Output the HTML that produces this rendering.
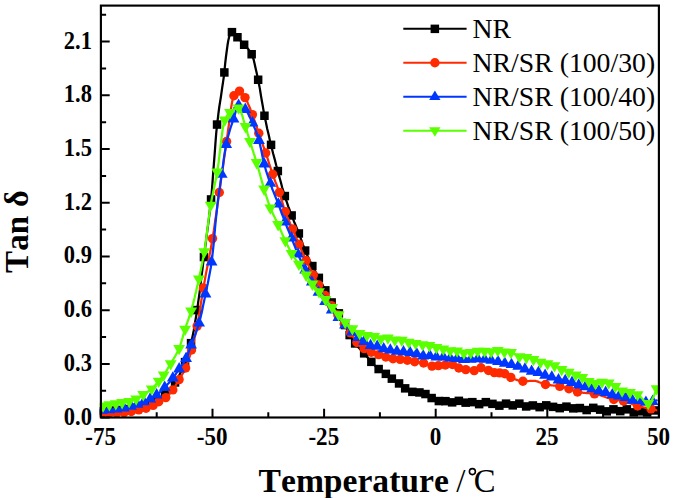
<!DOCTYPE html>
<html><head><meta charset="utf-8"><title>Tan delta vs Temperature</title>
<style>html,body{margin:0;padding:0;background:#fff;}body{width:675px;height:498px;overflow:hidden;font-family:"Liberation Serif",serif;}svg text{white-space:pre;font-kerning:none;font-variant-ligatures:none;}</style></head>
<body>
<svg width="675" height="498" viewBox="0 0 675 498" style="display:block">
<rect width="675" height="498" fill="#ffffff"/>
<defs><clipPath id="pc"><rect x="99.7" y="5.6" width="560.4" height="413.1"/></clipPath></defs>
<g clip-path="url(#pc)">
<g>
<polyline points="101.5,411.0 102.2,411.0 103.0,411.0 103.8,411.0 104.5,411.0 105.2,410.9 106.0,410.9 106.8,410.9 107.5,410.9 108.2,410.8 109.0,410.8 109.8,410.8 110.5,410.7 111.2,410.7 112.0,410.7 112.8,410.6 113.5,410.6 114.2,410.5 115.0,410.5 115.8,410.5 116.5,410.4 117.2,410.4 118.0,410.3 118.8,410.3 119.5,410.2 120.2,410.1 121.0,410.1 121.8,410.0 122.5,409.9 123.2,409.8 124.0,409.8 124.8,409.7 125.5,409.6 126.2,409.5 127.0,409.4 127.8,409.3 128.5,409.2 129.2,409.1 130.0,409.0 130.8,408.9 131.5,408.8 132.2,408.6 133.0,408.5 133.8,408.4 134.5,408.2 135.2,408.1 136.0,407.9 136.8,407.7 137.5,407.6 138.2,407.4 139.0,407.2 139.8,407.0 140.5,406.8 141.2,406.6 142.0,406.4 142.8,406.2 143.5,405.9 144.2,405.7 145.0,405.5 145.8,405.3 146.5,405.0 147.2,404.8 148.0,404.5 148.8,404.2 149.5,404.0 150.2,403.7 151.0,403.4 151.8,403.0 152.5,402.7 153.2,402.4 154.0,402.0 154.8,401.6 155.0,401.5 155.5,401.2 156.2,400.8 157.0,400.4 157.8,400.0 158.5,399.5 159.2,399.0 160.0,398.5 160.8,397.9 161.5,397.4 162.2,396.8 163.0,396.2 163.8,395.6 164.5,394.9 165.0,394.5 165.2,394.3 166.0,393.6 166.8,392.9 167.5,392.1 168.2,391.3 169.0,390.4 169.8,389.6 170.5,388.7 171.2,387.7 172.0,386.7 172.8,385.7 173.5,384.7 174.2,383.6 175.0,382.5 175.8,381.3 176.5,380.1 177.2,378.9 178.0,377.5 178.8,376.2 179.5,374.7 180.2,373.2 181.0,371.7 181.8,370.1 182.5,368.4 183.2,366.7 184.0,364.9 184.8,363.1 185.1,362.2 185.5,361.2 186.2,359.2 187.0,357.1 187.8,354.9 188.5,352.5 189.2,350.0 190.0,347.3 190.8,344.5 191.1,343.1 191.5,341.4 192.2,338.0 193.0,334.3 193.8,330.3 194.5,326.1 195.2,321.6 196.0,317.0 196.8,312.2 197.1,310.0 197.5,307.4 198.2,302.1 199.0,296.6 199.8,290.8 200.5,284.8 201.2,278.7 202.0,272.5 202.8,266.3 203.5,260.2 203.9,257.0 204.2,254.2 205.0,248.5 205.8,242.8 206.5,237.1 207.2,231.4 208.0,225.6 208.8,219.6 209.5,213.3 210.2,206.6 211.0,199.5 211.8,191.5 212.5,182.3 213.2,172.5 214.0,162.3 214.8,152.1 215.5,142.3 216.2,133.3 217.0,125.5 217.1,124.6 217.8,118.9 218.5,112.9 219.2,107.5 220.0,102.4 220.8,97.5 221.5,92.6 222.2,87.6 223.0,82.4 223.8,76.8 224.3,72.4 224.5,70.7 225.2,63.4 226.0,56.5 226.8,50.5 227.5,45.3 227.8,43.5 228.2,41.0 229.0,37.4 229.6,35.5 229.8,35.2 230.5,33.6 231.2,32.5 231.9,32.1 232.0,32.1 232.8,32.3 233.5,32.8 234.2,33.5 235.0,34.3 235.8,35.2 236.5,36.1 237.2,36.9 237.5,37.2 238.0,37.7 238.8,38.5 239.5,39.3 240.2,40.2 241.0,41.0 241.8,41.9 242.5,42.8 243.2,43.7 244.0,44.6 244.2,44.8 244.8,45.4 245.5,46.3 246.2,47.0 247.0,47.8 247.8,48.6 248.5,49.5 249.2,50.4 250.0,51.4 250.8,52.6 251.5,53.9 251.7,54.3 252.2,55.5 253.0,57.7 253.8,60.2 254.5,63.2 255.2,66.4 256.0,69.9 256.8,73.4 257.5,77.0 258.1,79.8 258.2,80.5 259.0,84.3 259.8,88.4 260.5,92.7 261.2,97.2 262.0,101.7 262.8,106.1 263.5,110.4 264.2,114.4 264.5,115.7 265.0,118.2 265.8,121.8 266.5,125.3 267.2,128.7 268.0,132.0 268.8,135.3 269.5,138.5 270.2,141.7 271.0,144.8 271.8,147.9 272.5,150.9 273.2,153.8 274.0,156.7 274.8,159.6 275.5,162.4 276.2,165.2 277.0,168.0 277.8,170.8 277.8,171.0 278.5,173.6 279.2,176.4 280.0,179.2 280.8,182.0 281.5,184.8 282.2,187.5 283.0,190.1 283.8,192.7 284.5,195.1 284.8,196.1 285.2,197.5 286.0,199.8 286.8,202.0 287.5,204.2 288.2,206.3 289.0,208.4 289.8,210.5 290.5,212.5 291.2,214.5 291.6,215.4 292.0,216.4 292.8,218.4 293.5,220.2 294.2,222.0 295.0,223.8 295.8,225.6 296.5,227.4 297.2,229.3 298.0,231.1 298.8,233.0 298.9,233.4 299.5,235.0 300.2,237.0 301.0,239.2 301.8,241.3 302.5,243.4 303.2,245.5 304.0,247.6 304.8,249.5 305.2,250.6 305.5,251.3 306.2,253.1 307.0,254.8 307.8,256.4 308.5,258.0 309.2,259.6 310.0,261.2 310.8,262.7 311.5,264.2 312.2,265.7 312.4,266.0 313.0,267.2 313.8,268.6 314.5,270.0 315.2,271.3 316.0,272.7 316.8,274.0 317.5,275.4 318.2,276.8 318.8,277.8 319.0,278.2 319.8,279.6 320.5,281.0 321.2,282.5 322.0,283.9 322.8,285.4 323.5,286.8 324.2,288.3 325.0,289.7 325.3,290.3 325.8,291.2 326.5,292.7 327.2,294.2 328.0,295.7 328.8,297.2 329.5,298.7 330.2,300.1 331.0,301.5 331.6,302.5 331.8,302.8 332.5,304.0 333.2,305.1 334.0,306.2 334.8,307.3 335.5,308.3 336.2,309.4 337.0,310.4 337.8,311.6 338.5,312.7 338.9,313.4 339.2,314.0 340.0,315.3 340.8,316.7 341.5,318.1 342.2,319.5 343.0,321.0 343.8,322.5 344.5,324.0 345.0,325.0 345.2,325.5 346.0,327.1 346.8,328.8 347.5,330.5 348.2,332.1 349.0,333.7 349.7,335.0 349.8,335.1 350.5,336.4 351.2,337.7 352.0,338.9 352.8,340.1 353.5,341.3 354.2,342.3 355.0,343.4 355.1,343.5 355.8,344.3 356.5,345.2 357.2,346.1 358.0,347.0 358.8,347.8 359.5,348.5 360.2,349.3 361.0,350.1 361.8,350.9 362.5,351.7 363.2,352.5 364.0,353.3 364.1,353.4 364.8,354.1 365.5,355.0 366.2,355.9 367.0,356.8 367.8,357.7 368.5,358.6 369.2,359.5 370.0,360.4 370.8,361.2 371.3,361.8 371.5,362.0 372.2,362.8 373.0,363.6 373.8,364.4 374.5,365.2 375.2,365.9 376.0,366.7 376.8,367.4 377.5,368.1 378.2,368.7 378.6,369.0 379.0,369.3 379.8,369.9 380.5,370.4 381.2,370.9 382.0,371.4 382.8,371.9 383.5,372.3 384.2,372.8 385.0,373.3 385.8,373.9 385.8,373.9 386.5,374.4 387.2,375.0 388.0,375.6 388.8,376.3 389.5,376.9 390.2,377.5 391.0,378.1 391.8,378.7 391.8,378.7 392.5,379.2 393.2,379.7 394.0,380.2 394.8,380.7 395.5,381.2 396.2,381.6 397.0,382.1 397.8,382.6 398.5,383.1 399.0,383.5 399.2,383.7 400.0,384.3 400.8,384.9 401.5,385.5 402.2,386.2 403.0,386.8 403.8,387.4 404.5,387.9 405.1,388.3 405.2,388.4 406.0,388.9 406.8,389.3 407.5,389.8 408.2,390.3 409.0,390.7 409.8,391.1 410.5,391.4 411.2,391.7 412.0,391.8 412.3,391.9 412.8,392.0 413.5,392.0 414.2,392.1 415.0,392.2 415.8,392.2 416.5,392.2 417.2,392.3 418.0,392.3 418.8,392.4 419.5,392.5 420.2,392.6 421.0,392.7 421.8,392.9 422.5,393.1 423.2,393.3 424.0,393.5 424.8,393.7 425.5,394.0 426.2,394.3 427.0,394.8 427.8,395.3 428.5,395.8 429.2,396.4 430.0,397.0 430.8,397.5 431.5,397.9 431.6,398.0 432.2,398.3 433.0,398.8 433.8,399.2 434.5,399.6 435.2,400.0 436.0,400.3 436.8,400.6 437.5,400.8 438.2,401.0 438.8,401.0 439.0,401.0 439.8,401.0 440.5,401.0 441.2,401.0 442.0,401.0 442.8,401.1 443.5,401.1 444.2,401.1 445.0,401.1 445.5,401.1 445.8,401.1 446.5,401.2 447.2,401.3 448.0,401.5 448.8,401.7 449.5,401.9 450.2,402.1 451.0,402.2 451.8,402.3 452.2,402.3 452.5,402.3 453.2,402.2 454.0,402.1 454.8,401.8 455.5,401.6 456.2,401.4 457.0,401.2 457.8,401.0 458.5,400.9 458.9,400.9 459.2,400.9 460.0,401.0 460.8,401.2 461.5,401.5 462.2,401.7 463.0,402.0 463.8,402.3 464.5,402.5 465.2,402.6 465.7,402.6 466.0,402.6 466.8,402.6 467.5,402.5 468.2,402.4 469.0,402.4 469.8,402.3 470.5,402.2 471.2,402.1 472.0,402.1 472.4,402.1 472.8,402.1 473.5,402.3 474.2,402.5 475.0,402.8 475.8,403.2 476.5,403.5 477.2,403.8 478.0,404.0 478.8,404.2 479.1,404.2 479.5,404.2 480.2,404.0 481.0,403.8 481.8,403.5 482.5,403.1 483.2,402.8 484.0,402.5 484.8,402.2 485.5,402.1 485.8,402.1 486.2,402.1 487.0,402.2 487.8,402.3 488.5,402.5 489.2,402.8 490.0,403.0 490.8,403.3 491.5,403.5 492.2,403.7 492.5,403.8 493.0,403.9 493.8,404.2 494.5,404.4 495.2,404.7 496.0,405.0 496.8,405.2 497.5,405.4 498.2,405.5 499.0,405.6 499.3,405.6 499.8,405.6 500.5,405.4 501.2,405.2 502.0,404.9 502.8,404.6 503.5,404.2 504.2,403.9 505.0,403.7 505.8,403.6 506.0,403.6 506.5,403.6 507.2,403.8 508.0,404.0 508.8,404.2 509.5,404.5 510.2,404.8 511.0,405.0 511.8,405.2 512.5,405.3 512.7,405.3 513.2,405.3 514.0,405.1 514.8,404.9 515.5,404.7 516.2,404.4 517.0,404.1 517.8,403.9 518.5,403.7 519.2,403.6 519.4,403.6 520.0,403.7 520.8,403.9 521.5,404.3 522.2,404.7 523.0,405.2 523.8,405.7 524.5,406.1 525.2,406.4 526.0,406.5 526.1,406.5 526.8,406.5 527.5,406.4 528.2,406.3 529.0,406.1 529.8,405.9 530.5,405.8 531.2,405.6 532.0,405.5 532.8,405.5 532.9,405.5 533.5,405.5 534.2,405.7 535.0,405.9 535.8,406.1 536.5,406.4 537.2,406.6 538.0,406.9 538.8,407.0 539.5,407.1 539.6,407.1 540.2,407.1 541.0,406.9 541.8,406.7 542.5,406.4 543.2,406.1 544.0,405.9 544.8,405.6 545.5,405.5 546.2,405.4 546.3,405.4 547.0,405.4 547.8,405.5 548.5,405.7 549.2,405.9 550.0,406.1 550.8,406.3 551.5,406.5 552.2,406.7 553.0,406.9 553.8,407.1 554.5,407.2 555.2,407.4 556.0,407.6 556.8,407.8 557.5,407.9 558.2,408.0 559.0,408.1 559.7,408.1 559.8,408.1 560.5,408.0 561.2,407.9 562.0,407.7 562.8,407.5 563.5,407.3 564.2,407.1 565.0,406.9 565.8,406.7 566.5,406.7 567.2,406.8 568.0,406.9 568.8,407.1 569.5,407.4 570.2,407.7 571.0,408.0 571.8,408.2 572.5,408.3 573.2,408.4 573.2,408.4 574.0,408.4 574.8,408.3 575.5,408.3 576.2,408.2 577.0,408.2 577.8,408.1 578.5,408.0 579.2,408.0 579.9,408.0 580.0,408.0 580.8,408.1 581.5,408.3 582.2,408.6 583.0,408.9 583.8,409.2 584.5,409.5 585.2,409.8 586.0,410.0 586.6,410.0 586.8,410.0 587.5,409.9 588.2,409.7 589.0,409.4 589.8,409.0 590.5,408.7 591.2,408.4 592.0,408.1 592.8,407.9 593.3,407.9 593.5,407.9 594.2,408.0 595.0,408.1 595.8,408.3 596.5,408.5 597.2,408.7 598.0,409.0 598.8,409.2 599.5,409.4 600.1,409.6 600.2,409.6 601.0,409.9 601.8,410.1 602.5,410.4 603.2,410.6 604.0,410.9 604.8,411.1 605.5,411.3 606.2,411.4 606.8,411.4 607.0,411.4 607.8,411.3 608.5,411.1 609.2,410.8 610.0,410.5 610.8,410.1 611.5,409.8 612.2,409.6 613.0,409.4 613.5,409.4 613.8,409.4 614.5,409.5 615.2,409.7 616.0,409.9 616.8,410.2 617.5,410.5 618.2,410.8 619.0,411.0 619.8,411.1 620.2,411.1 620.5,411.1 621.2,411.0 622.0,410.8 622.8,410.5 623.5,410.3 624.2,410.0 625.0,409.7 625.8,409.5 626.5,409.4 626.9,409.4 627.2,409.4 628.0,409.6 628.8,409.9 629.5,410.3 630.2,410.8 631.0,411.3 631.8,411.7 632.5,412.1 633.2,412.3 633.7,412.3 634.0,412.3 634.8,412.2 635.5,412.1 636.2,412.0 637.0,411.8 637.8,411.6 638.5,411.5 639.2,411.4 640.0,411.3 640.4,411.3 640.8,411.3 641.5,411.4 642.2,411.5 643.0,411.7 643.8,411.9 644.5,412.1 645.2,412.3 646.0,412.4 646.8,412.5 647.1,412.5 647.5,412.5 648.2,412.4 649.0,412.3 649.8,412.1 650.5,411.9 651.2,411.7 652.0,411.4 652.8,411.0 653.5,410.7 653.8,410.5" fill="none" stroke="#000000" stroke-width="2.25" stroke-linejoin="round"/>
<rect x="97.2" y="406.8" width="8.5" height="8.5" fill="#000000"/><rect x="104.0" y="406.6" width="8.5" height="8.5" fill="#000000"/><rect x="110.8" y="406.2" width="8.5" height="8.5" fill="#000000"/><rect x="118.2" y="405.7" width="8.5" height="8.5" fill="#000000"/><rect x="125.8" y="404.8" width="8.5" height="8.5" fill="#000000"/><rect x="133.2" y="403.3" width="8.5" height="8.5" fill="#000000"/><rect x="140.8" y="401.2" width="8.5" height="8.5" fill="#000000"/><rect x="150.8" y="397.2" width="8.5" height="8.5" fill="#000000"/><rect x="160.8" y="390.2" width="8.5" height="8.5" fill="#000000"/><rect x="170.8" y="378.2" width="8.5" height="8.5" fill="#000000"/><rect x="180.8" y="357.9" width="8.5" height="8.5" fill="#000000"/><rect x="186.8" y="338.9" width="8.5" height="8.5" fill="#000000"/><rect x="192.8" y="305.8" width="8.5" height="8.5" fill="#000000"/><rect x="199.7" y="252.8" width="8.5" height="8.5" fill="#000000"/><rect x="206.8" y="195.2" width="8.5" height="8.5" fill="#000000"/><rect x="212.8" y="120.3" width="8.5" height="8.5" fill="#000000"/><rect x="220.1" y="68.2" width="8.5" height="8.5" fill="#000000"/><rect x="227.7" y="27.9" width="8.5" height="8.5" fill="#000000"/><rect x="233.2" y="33.0" width="8.5" height="8.5" fill="#000000"/><rect x="239.9" y="40.5" width="8.5" height="8.5" fill="#000000"/><rect x="247.4" y="50.0" width="8.5" height="8.5" fill="#000000"/><rect x="253.9" y="75.5" width="8.5" height="8.5" fill="#000000"/><rect x="260.2" y="111.5" width="8.5" height="8.5" fill="#000000"/><rect x="266.8" y="140.6" width="8.5" height="8.5" fill="#000000"/><rect x="273.6" y="166.8" width="8.5" height="8.5" fill="#000000"/><rect x="280.6" y="191.8" width="8.5" height="8.5" fill="#000000"/><rect x="287.4" y="211.2" width="8.5" height="8.5" fill="#000000"/><rect x="294.6" y="229.2" width="8.5" height="8.5" fill="#000000"/><rect x="300.9" y="246.3" width="8.5" height="8.5" fill="#000000"/><rect x="308.1" y="261.8" width="8.5" height="8.5" fill="#000000"/><rect x="314.6" y="273.6" width="8.5" height="8.5" fill="#000000"/><rect x="321.1" y="286.1" width="8.5" height="8.5" fill="#000000"/><rect x="327.4" y="298.2" width="8.5" height="8.5" fill="#000000"/><rect x="334.6" y="309.1" width="8.5" height="8.5" fill="#000000"/><rect x="340.8" y="320.8" width="8.5" height="8.5" fill="#000000"/><rect x="345.4" y="330.8" width="8.5" height="8.5" fill="#000000"/><rect x="350.9" y="339.2" width="8.5" height="8.5" fill="#000000"/><rect x="359.9" y="349.1" width="8.5" height="8.5" fill="#000000"/><rect x="367.1" y="357.6" width="8.5" height="8.5" fill="#000000"/><rect x="374.4" y="364.8" width="8.5" height="8.5" fill="#000000"/><rect x="381.6" y="369.6" width="8.5" height="8.5" fill="#000000"/><rect x="387.6" y="374.4" width="8.5" height="8.5" fill="#000000"/><rect x="394.8" y="379.2" width="8.5" height="8.5" fill="#000000"/><rect x="400.9" y="384.1" width="8.5" height="8.5" fill="#000000"/><rect x="408.1" y="387.6" width="8.5" height="8.5" fill="#000000"/><rect x="415.2" y="388.2" width="8.5" height="8.5" fill="#000000"/><rect x="421.2" y="389.8" width="8.5" height="8.5" fill="#000000"/><rect x="427.4" y="393.8" width="8.5" height="8.5" fill="#000000"/><rect x="434.6" y="396.8" width="8.5" height="8.5" fill="#000000"/><rect x="441.2" y="396.9" width="8.5" height="8.5" fill="#000000"/><rect x="447.9" y="398.1" width="8.5" height="8.5" fill="#000000"/><rect x="454.6" y="396.6" width="8.5" height="8.5" fill="#000000"/><rect x="461.4" y="398.4" width="8.5" height="8.5" fill="#000000"/><rect x="468.1" y="397.9" width="8.5" height="8.5" fill="#000000"/><rect x="474.9" y="399.9" width="8.5" height="8.5" fill="#000000"/><rect x="481.6" y="397.9" width="8.5" height="8.5" fill="#000000"/><rect x="488.2" y="399.6" width="8.5" height="8.5" fill="#000000"/><rect x="495.1" y="401.4" width="8.5" height="8.5" fill="#000000"/><rect x="501.8" y="399.4" width="8.5" height="8.5" fill="#000000"/><rect x="508.5" y="401.1" width="8.5" height="8.5" fill="#000000"/><rect x="515.1" y="399.4" width="8.5" height="8.5" fill="#000000"/><rect x="521.9" y="402.2" width="8.5" height="8.5" fill="#000000"/><rect x="528.6" y="401.2" width="8.5" height="8.5" fill="#000000"/><rect x="535.4" y="402.9" width="8.5" height="8.5" fill="#000000"/><rect x="542.0" y="401.1" width="8.5" height="8.5" fill="#000000"/><rect x="548.8" y="402.6" width="8.5" height="8.5" fill="#000000"/><rect x="555.5" y="403.9" width="8.5" height="8.5" fill="#000000"/><rect x="562.2" y="402.4" width="8.5" height="8.5" fill="#000000"/><rect x="569.0" y="404.1" width="8.5" height="8.5" fill="#000000"/><rect x="575.6" y="403.8" width="8.5" height="8.5" fill="#000000"/><rect x="582.4" y="405.8" width="8.5" height="8.5" fill="#000000"/><rect x="589.0" y="403.6" width="8.5" height="8.5" fill="#000000"/><rect x="595.9" y="405.4" width="8.5" height="8.5" fill="#000000"/><rect x="602.5" y="407.1" width="8.5" height="8.5" fill="#000000"/><rect x="609.2" y="405.1" width="8.5" height="8.5" fill="#000000"/><rect x="616.0" y="406.9" width="8.5" height="8.5" fill="#000000"/><rect x="622.6" y="405.1" width="8.5" height="8.5" fill="#000000"/><rect x="629.5" y="408.1" width="8.5" height="8.5" fill="#000000"/><rect x="636.1" y="407.1" width="8.5" height="8.5" fill="#000000"/><rect x="642.9" y="408.2" width="8.5" height="8.5" fill="#000000"/><rect x="649.5" y="406.2" width="8.5" height="8.5" fill="#000000"/>
</g>
<g>
<polyline points="102.0,413.3 102.8,413.3 103.5,413.3 104.2,413.3 105.0,413.3 105.8,413.3 106.5,413.3 107.2,413.3 108.0,413.2 108.8,413.2 109.5,413.2 110.2,413.2 111.0,413.2 111.8,413.2 112.5,413.1 113.2,413.1 114.0,413.1 114.8,413.1 115.5,413.1 116.2,413.0 117.0,413.0 117.8,413.0 118.5,412.9 119.2,412.9 120.0,412.9 120.8,412.9 121.5,412.8 122.0,412.8 122.2,412.8 123.0,412.7 123.8,412.7 124.5,412.6 125.2,412.5 126.0,412.4 126.8,412.3 127.5,412.2 128.2,412.1 129.0,412.0 129.8,411.8 130.5,411.7 131.2,411.5 132.0,411.4 132.8,411.2 133.5,411.0 134.2,410.9 135.0,410.7 135.8,410.5 136.5,410.4 137.2,410.2 138.0,410.0 138.8,409.9 139.5,409.7 140.0,409.6 140.2,409.5 141.0,409.4 141.8,409.2 142.5,409.1 143.2,408.9 144.0,408.7 144.8,408.5 145.5,408.3 146.0,408.2 146.2,408.1 147.0,407.9 147.8,407.6 148.5,407.4 149.2,407.1 150.0,406.8 150.8,406.5 151.5,406.2 152.2,405.8 153.0,405.4 153.1,405.4 153.8,405.1 154.5,404.6 155.2,404.1 156.0,403.6 156.8,403.1 157.5,402.6 158.2,402.1 158.7,401.8 159.0,401.6 159.8,401.2 160.5,400.8 161.2,400.4 162.0,400.0 162.8,399.6 163.5,399.1 164.2,398.7 165.0,398.2 165.8,397.6 165.8,397.6 166.5,397.0 167.2,396.4 168.0,395.6 168.8,394.8 169.5,394.0 170.2,393.1 171.0,392.2 171.8,391.3 172.5,390.3 172.8,389.9 173.2,389.3 174.0,388.2 174.8,387.0 175.5,385.8 176.2,384.5 177.0,383.2 177.8,381.9 178.5,380.6 179.1,379.6 179.2,379.3 180.0,378.1 180.8,376.9 181.5,375.7 182.2,374.4 183.0,373.1 183.8,371.8 184.5,370.3 185.2,368.8 185.6,368.0 186.0,367.1 186.8,365.2 187.5,363.1 188.2,360.9 189.0,358.5 189.8,356.1 190.5,353.5 191.2,350.9 191.5,350.0 192.0,348.2 192.8,345.4 193.5,342.4 194.2,339.3 195.0,336.0 195.8,332.6 196.5,329.0 197.1,326.1 197.2,325.3 198.0,321.3 198.8,317.0 199.5,312.4 200.2,307.6 201.0,302.8 201.8,298.0 202.5,293.3 203.2,288.8 203.4,287.9 204.0,284.5 204.8,280.4 205.5,276.4 206.2,272.4 207.0,268.5 207.8,264.6 208.5,260.8 209.2,256.8 210.0,252.8 210.8,248.7 211.5,244.5 212.2,240.1 212.5,238.6 213.0,235.5 213.8,230.7 214.5,225.8 215.2,220.7 216.0,215.6 216.8,210.3 217.5,205.1 218.2,199.8 219.0,194.6 219.3,192.5 219.8,189.4 220.5,184.1 221.2,178.8 222.0,173.5 222.8,168.1 223.5,162.8 224.2,157.5 225.0,152.3 225.8,147.2 226.3,143.5 226.5,142.2 227.2,136.8 228.0,131.0 228.8,125.1 229.5,119.3 230.2,113.6 231.0,108.4 231.8,103.8 232.5,100.0 233.2,97.2 233.9,95.8 234.0,95.7 234.8,94.6 235.5,93.7 236.2,92.9 237.0,92.2 237.8,91.7 238.5,91.3 239.2,91.1 239.5,91.1 240.0,91.2 240.8,91.6 241.5,92.3 242.2,93.3 243.0,94.4 243.8,95.6 244.5,96.8 245.0,97.6 245.2,98.0 246.0,99.3 246.8,100.8 247.5,102.4 248.2,104.1 249.0,105.9 249.8,107.7 250.5,109.7 251.2,111.6 252.0,113.6 252.4,114.6 252.8,115.5 253.5,117.5 254.2,119.7 255.0,121.9 255.8,124.1 256.5,126.4 257.2,128.6 258.0,130.9 258.8,133.1 258.8,133.2 259.5,135.2 260.2,137.4 261.0,139.5 261.8,141.6 262.5,143.8 263.2,145.9 264.0,148.0 264.8,150.2 265.5,152.4 265.7,153.0 266.2,154.6 267.0,156.9 267.8,159.2 268.5,161.5 269.2,163.9 270.0,166.2 270.8,168.5 271.5,170.8 272.2,173.0 272.7,174.3 273.0,175.2 273.8,177.3 274.5,179.3 275.2,181.3 276.0,183.3 276.8,185.3 277.5,187.4 278.2,189.5 279.0,191.6 279.3,192.5 279.8,193.9 280.5,196.2 281.2,198.7 282.0,201.3 282.8,203.8 283.5,206.3 284.2,208.6 285.0,210.9 285.3,211.7 285.8,212.9 286.5,214.9 287.2,216.7 288.0,218.5 288.8,220.3 289.5,222.0 290.2,223.7 291.0,225.4 291.8,227.1 292.5,228.9 293.2,230.7 294.0,232.5 294.8,234.3 295.5,236.2 296.2,238.0 297.0,239.8 297.8,241.6 298.5,243.4 298.9,244.3 299.2,245.1 300.0,246.9 300.8,248.6 301.5,250.3 302.2,252.0 303.0,253.7 303.8,255.4 304.5,257.0 305.2,258.7 306.0,260.3 306.1,260.5 306.8,261.9 307.5,263.4 308.2,265.0 309.0,266.5 309.8,268.0 310.5,269.5 311.2,271.0 312.0,272.5 312.8,273.9 313.3,275.0 313.5,275.4 314.2,276.8 315.0,278.2 315.8,279.7 316.5,281.0 317.2,282.4 318.0,283.8 318.7,285.0 318.8,285.1 319.5,286.4 320.2,287.7 321.0,288.9 321.8,290.1 322.5,291.4 323.2,292.6 324.0,293.8 324.8,295.0 325.5,296.2 326.0,297.0 326.2,297.4 327.0,298.6 327.8,299.8 328.5,301.0 329.2,302.2 330.0,303.4 330.8,304.6 331.5,305.7 332.2,306.9 333.0,308.0 333.8,309.1 334.5,310.2 335.2,311.3 336.0,312.4 336.8,313.4 337.5,314.5 338.2,315.5 339.0,316.6 339.8,317.6 340.0,318.0 340.5,318.7 341.2,319.8 342.0,320.9 342.8,321.9 343.5,323.0 344.2,324.1 345.0,325.2 345.8,326.2 346.5,327.3 347.0,328.0 347.2,328.4 348.0,329.4 348.8,330.4 349.5,331.5 350.2,332.5 351.0,333.6 351.8,334.6 352.0,335.0 352.5,335.8 353.2,337.0 354.0,338.2 354.8,339.5 355.5,340.6 356.2,341.7 356.9,342.5 357.0,342.6 357.8,343.4 358.5,344.2 359.2,344.9 360.0,345.6 360.8,346.2 361.5,346.8 362.2,347.3 363.0,347.9 363.8,348.4 364.1,348.6 364.5,348.8 365.2,349.3 366.0,349.7 366.8,350.1 367.5,350.5 368.2,350.9 369.0,351.2 369.8,351.6 370.5,351.9 371.2,352.2 371.3,352.2 372.0,352.5 372.8,352.7 373.5,353.0 374.2,353.2 375.0,353.5 375.8,353.7 376.5,353.9 377.2,354.2 378.0,354.4 378.6,354.6 378.8,354.6 379.5,354.9 380.2,355.2 381.0,355.5 381.8,355.7 382.5,356.0 383.2,356.3 384.0,356.5 384.8,356.7 385.5,356.9 385.8,357.0 386.2,357.1 387.0,357.3 387.8,357.4 388.5,357.6 389.2,357.7 390.0,357.8 390.8,358.0 391.5,358.1 392.2,358.2 393.0,358.3 393.8,358.4 394.5,358.5 395.2,358.6 396.0,358.8 396.8,358.9 397.5,359.0 398.2,359.1 399.0,359.2 399.8,359.3 400.2,359.4 400.5,359.4 401.2,359.6 402.0,359.7 402.8,359.8 403.5,360.0 404.2,360.1 405.0,360.2 405.8,360.3 406.5,360.5 407.2,360.6 408.0,360.7 408.8,360.9 409.5,361.0 410.2,361.1 411.0,361.2 411.8,361.3 412.5,361.5 413.2,361.6 414.0,361.7 414.7,361.8 414.8,361.8 415.5,361.9 416.2,362.0 417.0,362.1 417.8,362.2 418.5,362.3 419.2,362.4 420.0,362.4 420.8,362.5 421.5,362.6 422.2,362.8 423.0,362.9 423.6,363.0 423.8,363.0 424.5,363.2 425.2,363.5 426.0,363.9 426.8,364.2 427.5,364.6 428.2,365.0 429.0,365.3 429.8,365.6 430.5,365.9 431.2,366.0 432.0,366.1 432.8,366.1 433.5,366.1 434.2,366.0 435.0,365.9 435.8,365.9 436.5,365.8 437.2,365.7 438.0,365.6 438.4,365.6 438.8,365.6 439.5,365.5 440.2,365.4 441.0,365.4 441.8,365.3 442.5,365.2 443.2,365.2 444.0,365.1 444.8,365.0 445.3,365.0 445.5,365.0 446.2,364.9 447.0,364.9 447.8,364.8 448.5,364.7 449.2,364.7 450.0,364.6 450.8,364.5 451.5,364.5 452.2,364.5 452.5,364.5 453.0,364.6 453.8,364.8 454.5,365.2 455.2,365.7 456.0,366.3 456.8,366.8 457.5,367.3 458.2,367.8 458.8,368.0 459.0,368.1 459.8,368.3 460.5,368.5 461.2,368.7 462.0,368.9 462.8,369.0 463.5,369.2 464.2,369.3 465.0,369.5 465.8,369.6 465.8,369.6 466.5,369.7 467.2,369.8 468.0,370.0 468.8,370.1 469.5,370.2 470.2,370.3 471.0,370.4 471.8,370.5 472.5,370.5 473.2,370.6 474.0,370.6 474.2,370.6 474.8,370.5 475.5,370.3 476.2,370.0 477.0,369.6 477.8,369.1 478.5,368.7 479.2,368.3 480.0,368.0 480.8,367.8 481.0,367.8 481.5,367.8 482.2,367.9 483.0,368.1 483.8,368.4 484.5,368.7 485.2,369.0 486.0,369.4 486.8,369.8 487.5,370.1 488.2,370.4 488.5,370.5 489.0,370.7 489.8,371.0 490.5,371.3 491.2,371.7 492.0,372.0 492.8,372.3 493.5,372.5 494.2,372.6 494.3,372.6 495.0,372.7 495.8,372.7 496.5,372.7 497.2,372.8 498.0,372.8 498.8,372.8 499.5,372.9 500.2,373.0 501.0,373.1 501.8,373.2 502.5,373.3 503.2,373.4 504.0,373.6 504.8,373.8 504.8,373.8 505.5,374.0 506.2,374.4 507.0,374.9 507.8,375.4 508.5,376.0 509.2,376.5 510.0,377.0 510.8,377.4 510.8,377.4 511.5,377.7 512.2,378.0 513.0,378.4 513.8,378.7 514.5,379.0 515.2,379.3 516.0,379.6 516.8,379.9 517.5,380.2 518.2,380.4 519.0,380.6 519.8,380.8 520.5,381.0 521.2,381.1 522.0,381.2 522.8,381.2 522.9,381.2 523.5,381.2 524.2,381.2 525.0,381.2 525.8,381.1 526.5,381.1 527.2,381.1 528.0,381.0 528.8,381.0 529.5,380.9 530.2,380.9 531.0,380.9 531.8,380.8 532.5,380.8 533.2,380.8 534.0,380.8 534.8,380.8 535.5,380.9 536.2,381.1 537.0,381.3 537.8,381.6 538.5,381.9 539.2,382.2 540.0,382.5 540.8,382.8 541.5,383.1 542.2,383.5 543.0,383.8 543.8,384.0 544.5,384.3 545.2,384.4 545.5,384.5 546.0,384.6 546.8,384.7 547.5,384.8 548.2,385.0 549.0,385.1 549.8,385.1 550.5,385.2 551.2,385.3 552.0,385.4 552.8,385.5 553.5,385.6 554.2,385.6 555.0,385.7 555.8,385.8 556.5,385.9 557.2,386.0 558.0,386.1 558.8,386.2 559.5,386.3 559.8,386.4 560.2,386.5 561.0,386.6 561.8,386.8 562.5,387.0 563.2,387.1 564.0,387.3 564.8,387.5 565.5,387.7 566.2,387.9 567.0,388.1 567.8,388.4 568.5,388.6 568.9,388.7 569.2,388.8 570.0,389.1 570.8,389.4 571.5,389.7 572.2,390.0 573.0,390.4 573.8,390.7 574.5,391.0 575.2,391.3 576.0,391.6 576.8,391.8 577.5,392.0 578.2,392.1 579.0,392.3 579.8,392.4 580.5,392.5 581.2,392.6 582.0,392.6 582.8,392.7 583.5,392.8 584.2,392.9 585.0,392.9 585.8,393.0 586.5,393.0 587.2,393.1 588.0,393.2 588.8,393.2 589.5,393.3 590.2,393.4 591.0,393.4 591.8,393.5 592.5,393.6 593.2,393.7 594.0,393.8 594.5,393.9 594.8,393.9 595.5,394.1 596.2,394.2 597.0,394.4 597.8,394.6 598.5,394.8 599.2,395.0 600.0,395.2 600.8,395.5 601.5,395.7 602.2,396.0 603.0,396.2 603.8,396.5 604.5,396.7 605.2,397.0 606.0,397.3 606.8,397.5 607.5,397.8 608.2,398.0 609.0,398.2 609.8,398.5 610.5,398.7 611.2,398.9 612.0,399.1 612.8,399.3 613.5,399.4 613.8,399.5 614.2,399.6 615.0,399.7 615.8,399.8 616.5,399.9 617.2,400.0 618.0,400.1 618.8,400.2 619.5,400.3 620.2,400.4 621.0,400.6 621.8,400.7 622.5,400.8 623.2,400.9 623.5,401.0 624.0,401.1 624.8,401.3 625.5,401.5 626.2,401.8 627.0,402.0 627.8,402.3 628.5,402.6 629.2,402.9 630.0,403.2 630.8,403.5 631.5,403.8 632.2,404.1 633.0,404.4 633.8,404.7 634.5,405.0 635.2,405.3 636.0,405.5 636.8,405.8 637.5,406.0 637.6,406.0 638.2,406.2 639.0,406.4 639.8,406.5 640.5,406.7 641.2,406.9 642.0,407.0 642.8,407.2 643.5,407.3 644.2,407.5 645.0,407.6 645.8,407.8 646.5,407.9 647.2,408.1 648.0,408.2 648.8,408.4 649.5,408.6 650.2,408.7 651.0,408.9 651.8,409.1 652.5,409.3 653.2,409.4 654.0,409.6 654.8,409.8 655.5,410.0 656.2,410.2 657.0,410.4 657.5,410.5" fill="none" stroke="#ff2a00" stroke-width="2.25" stroke-linejoin="round"/>
<circle cx="102.0" cy="413.3" r="4.7" fill="#ff2a00"/><circle cx="109.3" cy="413.2" r="4.7" fill="#ff2a00"/><circle cx="116.7" cy="413.0" r="4.7" fill="#ff2a00"/><circle cx="124.0" cy="412.7" r="4.7" fill="#ff2a00"/><circle cx="131.3" cy="411.5" r="4.7" fill="#ff2a00"/><circle cx="138.7" cy="409.9" r="4.7" fill="#ff2a00"/><circle cx="146.0" cy="408.2" r="4.7" fill="#ff2a00"/><circle cx="153.1" cy="405.4" r="4.7" fill="#ff2a00"/><circle cx="158.7" cy="401.8" r="4.7" fill="#ff2a00"/><circle cx="165.8" cy="397.6" r="4.7" fill="#ff2a00"/><circle cx="172.8" cy="389.9" r="4.7" fill="#ff2a00"/><circle cx="179.1" cy="379.6" r="4.7" fill="#ff2a00"/><circle cx="185.6" cy="368.0" r="4.7" fill="#ff2a00"/><circle cx="191.5" cy="350.0" r="4.7" fill="#ff2a00"/><circle cx="197.1" cy="326.1" r="4.7" fill="#ff2a00"/><circle cx="203.4" cy="287.9" r="4.7" fill="#ff2a00"/><circle cx="212.5" cy="238.6" r="4.7" fill="#ff2a00"/><circle cx="219.3" cy="192.5" r="4.7" fill="#ff2a00"/><circle cx="226.6" cy="141.5" r="4.7" fill="#ff2a00"/><circle cx="233.9" cy="95.8" r="4.7" fill="#ff2a00"/><circle cx="239.5" cy="91.1" r="4.7" fill="#ff2a00"/><circle cx="245.0" cy="97.6" r="4.7" fill="#ff2a00"/><circle cx="252.4" cy="114.6" r="4.7" fill="#ff2a00"/><circle cx="258.8" cy="133.2" r="4.7" fill="#ff2a00"/><circle cx="265.7" cy="153.0" r="4.7" fill="#ff2a00"/><circle cx="272.7" cy="174.3" r="4.7" fill="#ff2a00"/><circle cx="279.3" cy="192.5" r="4.7" fill="#ff2a00"/><circle cx="285.3" cy="211.7" r="4.7" fill="#ff2a00"/><circle cx="292.5" cy="228.9" r="4.7" fill="#ff2a00"/><circle cx="298.9" cy="244.3" r="4.7" fill="#ff2a00"/><circle cx="306.1" cy="260.5" r="4.7" fill="#ff2a00"/><circle cx="313.3" cy="275.0" r="4.7" fill="#ff2a00"/><circle cx="318.7" cy="285.0" r="4.7" fill="#ff2a00"/><circle cx="325.1" cy="295.5" r="4.7" fill="#ff2a00"/><circle cx="331.4" cy="305.6" r="4.7" fill="#ff2a00"/><circle cx="337.8" cy="314.9" r="4.7" fill="#ff2a00"/><circle cx="344.2" cy="324.0" r="4.7" fill="#ff2a00"/><circle cx="350.5" cy="332.9" r="4.7" fill="#ff2a00"/><circle cx="356.9" cy="342.5" r="4.7" fill="#ff2a00"/><circle cx="364.1" cy="348.6" r="4.7" fill="#ff2a00"/><circle cx="371.3" cy="352.2" r="4.7" fill="#ff2a00"/><circle cx="378.6" cy="354.6" r="4.7" fill="#ff2a00"/><circle cx="385.8" cy="357.0" r="4.7" fill="#ff2a00"/><circle cx="393.0" cy="358.7" r="4.7" fill="#ff2a00"/><circle cx="400.2" cy="359.4" r="4.7" fill="#ff2a00"/><circle cx="407.4" cy="360.2" r="4.7" fill="#ff2a00"/><circle cx="414.7" cy="361.8" r="4.7" fill="#ff2a00"/><circle cx="423.6" cy="363.0" r="4.7" fill="#ff2a00"/><circle cx="432.0" cy="366.1" r="4.7" fill="#ff2a00"/><circle cx="438.4" cy="365.6" r="4.7" fill="#ff2a00"/><circle cx="445.3" cy="365.0" r="4.7" fill="#ff2a00"/><circle cx="452.5" cy="364.5" r="4.7" fill="#ff2a00"/><circle cx="458.8" cy="368.0" r="4.7" fill="#ff2a00"/><circle cx="465.8" cy="369.6" r="4.7" fill="#ff2a00"/><circle cx="474.2" cy="370.6" r="4.7" fill="#ff2a00"/><circle cx="481.0" cy="367.8" r="4.7" fill="#ff2a00"/><circle cx="488.5" cy="370.5" r="4.7" fill="#ff2a00"/><circle cx="494.3" cy="372.6" r="4.7" fill="#ff2a00"/><circle cx="499.5" cy="372.9" r="4.7" fill="#ff2a00"/><circle cx="504.8" cy="373.8" r="4.7" fill="#ff2a00"/><circle cx="510.8" cy="377.4" r="4.7" fill="#ff2a00"/><circle cx="522.9" cy="381.2" r="4.7" fill="#ff2a00"/><circle cx="545.5" cy="384.5" r="4.7" fill="#ff2a00"/><circle cx="559.8" cy="386.4" r="4.7" fill="#ff2a00"/><circle cx="568.9" cy="388.7" r="4.7" fill="#ff2a00"/><circle cx="577.5" cy="392.0" r="4.7" fill="#ff2a00"/><circle cx="594.5" cy="393.9" r="4.7" fill="#ff2a00"/><circle cx="613.8" cy="399.5" r="4.7" fill="#ff2a00"/><circle cx="623.5" cy="401.0" r="4.7" fill="#ff2a00"/><circle cx="637.6" cy="406.0" r="4.7" fill="#ff2a00"/><circle cx="651.0" cy="408.9" r="4.7" fill="#ff2a00"/>
</g>
<g>
<polyline points="102.0,410.4 102.8,410.4 103.5,410.3 104.2,410.3 105.0,410.2 105.8,410.2 106.5,410.1 107.2,410.1 108.0,410.0 108.8,409.9 109.5,409.9 110.2,409.8 111.0,409.7 111.8,409.7 112.5,409.6 113.2,409.5 114.0,409.4 114.8,409.3 115.0,409.3 115.5,409.2 116.2,409.2 117.0,409.1 117.8,409.0 118.5,408.8 119.2,408.7 120.0,408.6 120.8,408.5 121.5,408.4 122.2,408.2 123.0,408.1 123.8,408.0 124.5,407.8 125.2,407.7 126.0,407.5 126.8,407.4 127.5,407.2 128.2,407.0 129.0,406.9 129.8,406.7 130.5,406.5 131.0,406.4 131.2,406.3 132.0,406.1 132.8,405.9 133.5,405.7 134.2,405.4 135.0,405.2 135.8,404.9 136.5,404.6 137.2,404.3 138.0,404.1 138.8,403.8 139.5,403.5 140.0,403.3 140.2,403.2 141.0,402.9 141.8,402.6 142.5,402.4 143.2,402.1 144.0,401.8 144.8,401.5 145.5,401.2 146.2,400.9 147.0,400.5 147.8,400.2 148.5,399.8 149.0,399.6 149.2,399.5 150.0,399.1 150.8,398.7 151.5,398.3 152.2,397.9 153.0,397.4 153.8,396.9 154.5,396.5 155.2,396.0 156.0,395.4 156.6,395.0 156.8,394.9 157.5,394.3 158.2,393.7 159.0,393.0 159.8,392.3 160.5,391.6 161.2,390.9 162.0,390.1 162.8,389.4 163.5,388.6 164.2,387.8 165.0,387.0 165.5,386.5 165.8,386.2 166.5,385.5 167.2,384.7 168.0,383.8 168.8,383.0 169.5,382.2 170.2,381.3 171.0,380.4 171.8,379.5 172.5,378.6 172.8,378.2 173.2,377.6 174.0,376.6 174.8,375.5 175.5,374.4 176.2,373.3 177.0,372.2 177.8,371.0 178.5,369.9 179.1,369.0 179.2,368.8 180.0,367.7 180.8,366.7 181.5,365.7 182.2,364.6 183.0,363.6 183.8,362.5 184.5,361.3 185.2,360.1 186.0,358.7 186.1,358.5 186.8,357.1 187.5,355.3 188.2,353.3 189.0,351.2 189.8,349.0 190.5,346.9 191.1,345.2 191.2,344.8 192.0,342.8 192.8,340.9 193.5,339.0 194.2,337.1 195.0,335.2 195.8,333.2 196.5,331.2 197.2,329.0 198.0,326.7 198.8,324.3 199.1,323.1 199.5,321.7 200.2,318.8 201.0,315.6 201.8,312.2 202.5,308.7 203.2,305.1 204.0,301.4 204.8,297.7 205.5,294.0 206.2,290.4 207.0,286.9 207.8,283.4 208.5,279.8 209.2,276.0 210.0,271.9 210.8,267.5 211.5,262.7 211.6,262.0 212.2,257.0 213.0,250.2 213.8,242.6 214.5,234.5 215.2,226.2 216.0,218.2 216.8,210.7 217.4,205.0 217.5,204.2 218.2,198.3 219.0,192.8 219.8,187.6 220.5,182.4 221.2,177.4 221.7,174.3 222.0,172.2 222.8,166.8 223.5,161.4 224.2,156.1 225.0,151.1 225.8,146.8 226.2,144.5 226.5,143.1 227.2,139.8 228.0,136.8 228.8,134.0 229.5,131.4 230.2,128.9 231.0,126.5 231.8,124.2 232.5,122.0 233.2,119.7 233.5,119.0 234.0,117.4 234.8,114.8 235.5,112.1 236.2,109.6 237.0,107.5 237.8,106.1 238.5,105.4 238.6,105.4 239.2,105.5 240.0,105.6 240.8,106.0 241.5,106.4 242.2,106.9 243.0,107.5 243.8,108.1 244.5,108.8 245.2,109.5 245.3,109.5 246.0,110.2 246.8,111.3 247.5,112.4 248.2,113.8 249.0,115.3 249.8,116.9 250.5,118.5 251.2,120.2 252.0,121.9 252.5,123.0 252.8,123.6 253.5,125.3 254.2,127.0 255.0,128.9 255.8,130.8 256.5,132.8 257.2,135.0 258.0,137.2 258.8,139.7 259.0,140.5 259.5,142.3 260.2,145.5 261.0,149.1 261.8,152.8 262.5,156.5 263.2,160.0 264.0,163.2 264.2,164.0 264.8,166.0 265.5,168.7 266.2,171.2 267.0,173.6 267.8,175.9 268.5,178.2 269.2,180.4 270.0,182.5 270.3,183.4 270.8,184.7 271.5,186.7 272.2,188.7 273.0,190.6 273.8,192.5 274.5,194.4 275.2,196.2 276.0,198.1 276.8,200.0 277.5,201.9 278.2,203.8 278.4,204.2 279.0,205.8 279.8,207.8 280.5,209.9 281.2,211.9 282.0,214.0 282.8,216.0 283.5,218.0 284.2,220.0 285.0,222.0 285.8,223.9 286.5,225.8 287.2,227.6 288.0,229.5 288.8,231.3 289.5,233.1 290.2,234.9 291.0,236.8 291.5,238.0 291.8,238.6 292.5,240.5 293.2,242.4 294.0,244.3 294.8,246.2 295.5,248.1 296.2,250.0 297.0,251.8 297.8,253.6 298.0,254.2 298.5,255.4 299.2,257.1 300.0,258.8 300.8,260.5 301.5,262.2 302.2,263.9 303.0,265.5 303.8,267.1 304.5,268.6 305.2,270.0 305.2,270.1 306.0,271.6 306.8,273.0 307.5,274.4 308.2,275.8 309.0,277.2 309.8,278.5 310.5,279.8 311.2,281.1 312.0,282.3 312.8,283.6 313.0,284.0 313.5,284.8 314.2,286.0 315.0,287.2 315.8,288.3 316.5,289.5 317.2,290.6 318.0,291.7 318.8,292.8 319.5,293.9 320.2,295.0 321.0,296.0 321.7,297.0 321.8,297.1 322.5,298.1 323.2,299.2 324.0,300.2 324.8,301.2 325.5,302.2 326.2,303.2 327.0,304.2 327.8,305.2 328.5,306.1 329.2,307.1 330.0,308.0 330.8,308.9 331.5,309.8 332.2,310.6 333.0,311.5 333.8,312.3 334.5,313.1 335.2,314.0 336.0,314.8 336.8,315.6 337.5,316.4 338.0,317.0 338.2,317.3 339.0,318.1 339.8,319.0 340.5,319.9 341.2,320.8 342.0,321.6 342.8,322.5 343.5,323.4 344.2,324.2 345.0,325.0 345.8,325.8 346.5,326.6 347.2,327.3 348.0,328.1 348.8,328.8 349.5,329.6 350.2,330.3 351.0,331.0 351.8,331.8 352.0,332.0 352.5,332.5 353.2,333.2 354.0,333.9 354.8,334.7 355.5,335.4 356.2,336.0 357.0,336.7 357.8,337.3 358.0,337.5 358.5,337.9 359.2,338.4 360.0,338.9 360.8,339.4 361.5,339.9 362.2,340.4 363.0,340.9 363.8,341.3 364.0,341.5 364.5,341.8 365.2,342.3 366.0,342.8 366.8,343.3 367.5,343.8 368.2,344.2 368.9,344.5 369.0,344.5 369.8,344.8 370.5,345.1 371.2,345.4 372.0,345.6 372.8,345.9 373.5,346.1 374.2,346.4 375.0,346.6 375.8,346.8 376.5,347.0 377.2,347.2 378.0,347.4 378.8,347.6 379.5,347.8 380.2,348.0 381.0,348.2 381.8,348.3 382.5,348.5 383.2,348.7 384.0,348.8 384.8,349.0 385.5,349.1 386.2,349.3 387.0,349.4 387.8,349.6 388.5,349.7 389.2,349.9 390.0,350.0 390.8,350.1 391.5,350.3 392.2,350.4 393.0,350.5 393.8,350.7 394.5,350.8 395.2,350.9 396.0,351.0 396.8,351.2 397.5,351.3 398.2,351.4 399.0,351.5 399.8,351.6 400.5,351.7 401.2,351.8 402.0,351.9 402.8,352.0 403.5,352.1 404.2,352.3 405.0,352.4 405.8,352.5 406.5,352.6 407.2,352.7 408.0,352.8 408.8,352.9 409.5,353.0 410.2,353.1 411.0,353.2 411.8,353.3 412.3,353.4 412.5,353.4 413.2,353.5 414.0,353.7 414.8,353.8 415.5,353.9 416.2,354.0 417.0,354.2 417.8,354.3 418.5,354.4 419.2,354.6 420.0,354.7 420.8,354.8 421.5,354.9 422.2,355.1 423.0,355.2 423.8,355.3 424.5,355.5 425.2,355.6 426.0,355.7 426.8,355.8 427.5,355.9 428.2,356.1 429.0,356.2 429.8,356.3 430.5,356.4 431.2,356.5 432.0,356.6 432.8,356.7 433.5,356.7 434.2,356.8 435.0,356.9 435.8,356.9 436.4,357.0 436.5,357.0 437.2,357.1 438.0,357.1 438.8,357.2 439.5,357.2 440.2,357.3 441.0,357.3 441.8,357.3 442.5,357.4 443.2,357.4 444.0,357.5 444.8,357.5 445.5,357.5 446.2,357.6 447.0,357.6 447.8,357.6 448.5,357.7 449.2,357.7 450.0,357.7 450.8,357.8 451.5,357.8 452.2,357.8 453.0,357.9 453.8,357.9 454.5,357.9 455.2,358.0 456.0,358.0 456.8,358.0 457.5,358.1 458.2,358.1 459.0,358.1 459.8,358.2 460.5,358.2 461.2,358.2 462.0,358.3 462.8,358.3 463.5,358.3 464.2,358.4 465.0,358.4 465.8,358.4 466.5,358.5 467.2,358.5 468.0,358.5 468.8,358.6 469.5,358.6 470.2,358.6 471.0,358.6 471.8,358.7 472.5,358.7 473.2,358.7 474.0,358.8 474.8,358.8 475.5,358.8 476.2,358.9 477.0,358.9 477.8,359.0 478.5,359.0 479.2,359.0 480.0,359.1 480.8,359.1 481.5,359.2 482.2,359.2 483.0,359.3 483.8,359.3 484.5,359.4 484.6,359.4 485.2,359.5 486.0,359.5 486.8,359.6 487.5,359.7 488.2,359.8 489.0,359.9 489.8,360.1 490.5,360.2 491.2,360.3 492.0,360.4 492.8,360.6 493.5,360.7 494.2,360.9 495.0,361.0 495.8,361.2 496.5,361.3 497.2,361.5 498.0,361.6 498.8,361.7 499.5,361.9 500.2,362.0 501.0,362.2 501.8,362.3 502.5,362.5 503.2,362.6 504.0,362.8 504.8,363.0 505.5,363.1 506.2,363.3 507.0,363.5 507.8,363.6 508.5,363.8 509.2,364.0 510.0,364.2 510.8,364.4 511.5,364.6 512.2,364.8 513.0,365.0 513.8,365.3 514.5,365.5 515.2,365.8 516.0,366.1 516.8,366.3 517.5,366.6 518.2,366.9 519.0,367.2 519.8,367.4 520.5,367.7 521.2,368.0 522.0,368.3 522.8,368.5 523.5,368.8 524.2,369.0 524.9,369.2 525.0,369.2 525.8,369.4 526.5,369.6 527.2,369.8 528.0,370.0 528.8,370.2 529.5,370.4 530.2,370.6 531.0,370.7 531.8,370.9 532.5,371.1 533.2,371.3 534.0,371.5 534.8,371.6 535.5,371.8 536.2,372.0 537.0,372.2 537.8,372.4 538.4,372.6 538.5,372.6 539.2,372.9 540.0,373.1 540.8,373.3 541.5,373.6 542.2,373.9 543.0,374.1 543.8,374.4 544.5,374.7 545.2,374.9 546.0,375.2 546.8,375.5 547.5,375.8 548.2,376.0 549.0,376.3 549.8,376.6 550.5,376.8 551.2,377.0 551.8,377.2 552.0,377.3 552.8,377.5 553.5,377.7 554.2,377.9 555.0,378.1 555.8,378.3 556.5,378.5 557.2,378.7 558.0,378.8 558.8,379.0 559.5,379.2 560.2,379.4 561.0,379.6 561.8,379.8 562.5,380.0 563.2,380.2 564.0,380.4 564.8,380.6 565.2,380.7 565.5,380.8 566.2,381.0 567.0,381.2 567.8,381.5 568.5,381.7 569.2,382.0 570.0,382.2 570.8,382.5 571.5,382.7 572.2,383.0 573.0,383.2 573.8,383.5 574.5,383.8 575.2,384.0 576.0,384.3 576.8,384.5 577.5,384.7 578.2,385.0 578.7,385.1 579.0,385.2 579.8,385.4 580.5,385.6 581.2,385.8 582.0,386.1 582.8,386.3 583.5,386.5 584.2,386.7 585.0,386.9 585.8,387.1 586.5,387.3 587.2,387.5 588.0,387.7 588.8,387.9 589.5,388.1 590.2,388.3 591.0,388.5 591.8,388.7 592.1,388.8 592.5,388.9 593.2,389.1 594.0,389.3 594.8,389.5 595.5,389.7 596.2,389.9 597.0,390.1 597.8,390.3 598.5,390.6 599.2,390.8 600.0,391.0 600.8,391.2 601.5,391.4 602.2,391.6 603.0,391.8 603.8,392.0 604.5,392.2 605.2,392.4 605.6,392.5 606.0,392.6 606.8,392.8 607.5,393.0 608.2,393.2 609.0,393.4 609.8,393.6 610.5,393.8 611.2,394.0 612.0,394.2 612.8,394.4 613.5,394.7 614.2,394.9 615.0,395.1 615.8,395.3 616.5,395.5 617.2,395.7 618.0,395.9 618.8,396.1 619.0,396.2 619.5,396.3 620.2,396.6 621.0,396.8 621.8,397.1 622.5,397.3 623.2,397.6 624.0,397.8 624.8,398.1 625.5,398.3 626.2,398.6 627.0,398.8 627.8,399.1 628.5,399.3 629.2,399.5 630.0,399.7 630.8,399.9 631.5,400.1 632.2,400.3 632.4,400.3 633.0,400.4 633.8,400.6 634.5,400.7 635.2,400.9 636.0,401.1 636.8,401.2 637.5,401.4 638.2,401.5 639.0,401.7 639.8,401.8 640.5,401.9 641.2,402.0 642.0,402.1 642.8,402.2 643.5,402.3 644.2,402.4 645.0,402.4 645.8,402.4 645.9,402.4 646.5,402.4 647.2,402.3 648.0,402.3 648.8,402.2 649.5,402.1 650.2,401.9 651.0,401.8 651.8,401.7 652.5,401.5 652.6,401.5 653.2,401.4 654.0,401.2 654.8,401.0 655.5,400.7 656.2,400.5 657.0,400.2 657.5,400.0" fill="none" stroke="#0037ff" stroke-width="2.25" stroke-linejoin="round"/>
<path d="M96.1 413.8L107.9 413.8L102.0 403.5Z" fill="#0037ff"/><path d="M103.3 413.3L115.2 413.3L109.2 403.0Z" fill="#0037ff"/><path d="M110.6 412.6L122.4 412.6L116.5 402.3Z" fill="#0037ff"/><path d="M117.8 411.4L129.7 411.4L123.8 401.1Z" fill="#0037ff"/><path d="M125.1 409.8L136.9 409.8L131.0 399.5Z" fill="#0037ff"/><path d="M131.5 407.7L143.3 407.7L137.4 397.4Z" fill="#0037ff"/><path d="M137.9 405.3L149.7 405.3L143.8 395.0Z" fill="#0037ff"/><path d="M144.3 402.4L156.1 402.4L150.2 392.1Z" fill="#0037ff"/><path d="M150.7 398.4L162.5 398.4L156.6 388.1Z" fill="#0037ff"/><path d="M158.8 390.8L170.6 390.8L164.7 380.5Z" fill="#0037ff"/><path d="M166.9 381.6L178.7 381.6L172.8 371.3Z" fill="#0037ff"/><path d="M173.2 372.4L185.0 372.4L179.1 362.1Z" fill="#0037ff"/><path d="M180.2 361.9L192.0 361.9L186.1 351.6Z" fill="#0037ff"/><path d="M185.2 348.6L197.0 348.6L191.1 338.3Z" fill="#0037ff"/><path d="M193.2 326.5L205.0 326.5L199.1 316.2Z" fill="#0037ff"/><path d="M199.6 297.4L211.4 297.4L205.5 287.1Z" fill="#0037ff"/><path d="M205.7 265.4L217.5 265.4L211.6 255.1Z" fill="#0037ff"/><path d="M215.8 177.7L227.6 177.7L221.7 167.4Z" fill="#0037ff"/><path d="M220.3 147.9L232.1 147.9L226.2 137.6Z" fill="#0037ff"/><path d="M227.6 122.4L239.4 122.4L233.5 112.1Z" fill="#0037ff"/><path d="M232.7 108.8L244.5 108.8L238.6 98.5Z" fill="#0037ff"/><path d="M239.4 112.9L251.2 112.9L245.3 102.6Z" fill="#0037ff"/><path d="M246.6 126.4L258.4 126.4L252.5 116.1Z" fill="#0037ff"/><path d="M253.1 143.9L264.9 143.9L259.0 133.6Z" fill="#0037ff"/><path d="M258.3 167.4L270.1 167.4L264.2 157.1Z" fill="#0037ff"/><path d="M264.4 186.8L276.2 186.8L270.3 176.5Z" fill="#0037ff"/><path d="M272.5 207.6L284.3 207.6L278.4 197.3Z" fill="#0037ff"/><path d="M279.1 225.4L290.9 225.4L285.0 215.1Z" fill="#0037ff"/><path d="M285.6 241.4L297.4 241.4L291.5 231.1Z" fill="#0037ff"/><path d="M292.1 257.6L303.9 257.6L298.0 247.3Z" fill="#0037ff"/><path d="M299.3 273.4L311.1 273.4L305.2 263.1Z" fill="#0037ff"/><path d="M305.9 285.5L317.7 285.5L311.8 275.2Z" fill="#0037ff"/><path d="M312.6 295.8L324.4 295.8L318.5 285.5Z" fill="#0037ff"/><path d="M319.2 305.1L331.0 305.1L325.1 294.8Z" fill="#0037ff"/><path d="M325.8 313.5L337.6 313.5L331.7 303.2Z" fill="#0037ff"/><path d="M332.5 320.9L344.3 320.9L338.4 310.6Z" fill="#0037ff"/><path d="M339.1 328.4L350.9 328.4L345.0 318.1Z" fill="#0037ff"/><path d="M346.1 335.4L357.9 335.4L352.0 325.1Z" fill="#0037ff"/><path d="M352.1 340.9L363.9 340.9L358.0 330.6Z" fill="#0037ff"/><path d="M358.1 344.9L369.9 344.9L364.0 334.6Z" fill="#0037ff"/><path d="M364.7 349.0L376.5 349.0L370.6 338.7Z" fill="#0037ff"/><path d="M371.3 349.8L383.1 349.8L377.2 339.5Z" fill="#0037ff"/><path d="M377.8 352.2L389.6 352.2L383.7 341.9Z" fill="#0037ff"/><path d="M384.4 353.5L396.2 353.5L390.3 343.2Z" fill="#0037ff"/><path d="M391.0 354.8L402.8 354.8L396.9 344.5Z" fill="#0037ff"/><path d="M397.6 355.3L409.4 355.3L403.5 345.0Z" fill="#0037ff"/><path d="M404.2 356.0L416.0 356.0L410.1 345.7Z" fill="#0037ff"/><path d="M410.8 357.3L422.6 357.3L416.7 347.0Z" fill="#0037ff"/><path d="M417.3 359.4L429.1 359.4L423.2 349.1Z" fill="#0037ff"/><path d="M423.9 359.0L435.7 359.0L429.8 348.7Z" fill="#0037ff"/><path d="M430.5 360.4L442.3 360.4L436.4 350.1Z" fill="#0037ff"/><path d="M437.4 360.4L449.2 360.4L443.3 350.1Z" fill="#0037ff"/><path d="M444.3 361.5L456.1 361.5L450.2 351.2Z" fill="#0037ff"/><path d="M451.2 362.1L463.0 362.1L457.1 351.8Z" fill="#0037ff"/><path d="M458.0 362.9L469.8 362.9L463.9 352.6Z" fill="#0037ff"/><path d="M464.9 362.7L476.7 362.7L470.8 352.4Z" fill="#0037ff"/><path d="M471.8 362.3L483.6 362.3L477.7 352.0Z" fill="#0037ff"/><path d="M478.7 362.8L490.5 362.8L484.6 352.5Z" fill="#0037ff"/><path d="M485.4 363.8L497.2 363.8L491.3 353.5Z" fill="#0037ff"/><path d="M492.1 365.0L503.9 365.0L498.0 354.7Z" fill="#0037ff"/><path d="M498.9 366.7L510.6 366.7L504.8 356.4Z" fill="#0037ff"/><path d="M505.6 368.0L517.4 368.0L511.5 357.7Z" fill="#0037ff"/><path d="M512.3 369.7L524.1 369.7L518.2 359.4Z" fill="#0037ff"/><path d="M519.0 372.6L530.8 372.6L524.9 362.3Z" fill="#0037ff"/><path d="M525.8 374.8L537.5 374.8L531.6 364.5Z" fill="#0037ff"/><path d="M532.5 376.0L544.3 376.0L538.4 365.7Z" fill="#0037ff"/><path d="M539.2 378.8L551.0 378.8L545.1 368.5Z" fill="#0037ff"/><path d="M545.9 380.6L557.7 380.6L551.8 370.3Z" fill="#0037ff"/><path d="M552.6 383.4L564.4 383.4L558.5 373.1Z" fill="#0037ff"/><path d="M559.3 384.1L571.1 384.1L565.2 373.8Z" fill="#0037ff"/><path d="M566.1 385.9L577.9 385.9L572.0 375.6Z" fill="#0037ff"/><path d="M572.8 388.5L584.6 388.5L578.7 378.2Z" fill="#0037ff"/><path d="M579.5 390.3L591.3 390.3L585.4 380.0Z" fill="#0037ff"/><path d="M586.2 392.2L598.0 392.2L592.1 381.9Z" fill="#0037ff"/><path d="M593.0 394.5L604.8 394.5L598.9 384.2Z" fill="#0037ff"/><path d="M599.7 395.9L611.5 395.9L605.6 385.6Z" fill="#0037ff"/><path d="M606.4 398.3L618.2 398.3L612.3 388.0Z" fill="#0037ff"/><path d="M613.1 399.6L624.9 399.6L619.0 389.3Z" fill="#0037ff"/><path d="M619.8 401.1L631.6 401.1L625.7 390.8Z" fill="#0037ff"/><path d="M626.5 403.7L638.3 403.7L632.4 393.4Z" fill="#0037ff"/><path d="M633.2 404.1L645.0 404.1L639.1 393.8Z" fill="#0037ff"/><path d="M640.0 405.8L651.8 405.8L645.9 395.5Z" fill="#0037ff"/><path d="M646.7 404.9L658.5 404.9L652.6 394.6Z" fill="#0037ff"/>
</g>
<g>
<polyline points="103.1,405.9 103.8,405.8 104.6,405.6 105.3,405.5 106.1,405.3 106.8,405.2 107.6,405.0 108.3,404.9 109.1,404.8 109.8,404.6 110.0,404.6 110.6,404.5 111.3,404.4 112.1,404.2 112.8,404.1 113.6,404.0 114.3,403.9 115.1,403.8 115.8,403.6 116.0,403.6 116.6,403.5 117.3,403.4 118.1,403.2 118.8,403.1 119.6,403.0 120.3,402.8 121.1,402.7 121.8,402.5 122.1,402.5 122.6,402.4 123.3,402.3 124.1,402.2 124.8,402.1 125.6,402.0 126.3,401.8 127.1,401.7 127.8,401.6 128.6,401.4 129.2,401.3 129.3,401.3 130.1,401.1 130.8,400.9 131.6,400.6 132.3,400.4 133.1,400.1 133.8,399.8 134.6,399.5 135.3,399.2 136.1,398.8 136.2,398.8 136.8,398.5 137.6,398.1 138.3,397.7 139.1,397.2 139.8,396.8 140.6,396.3 141.3,395.8 142.1,395.3 142.8,394.8 143.3,394.5 143.6,394.3 144.3,393.8 145.1,393.4 145.8,392.9 146.6,392.5 147.3,392.0 148.1,391.5 148.8,391.0 149.6,390.5 150.3,390.0 151.1,389.4 151.7,388.9 151.8,388.8 152.6,388.1 153.3,387.4 154.1,386.6 154.8,385.7 155.6,384.9 156.3,384.0 157.1,383.1 157.8,382.2 158.6,381.3 158.7,381.2 159.3,380.4 160.1,379.5 160.8,378.6 161.6,377.7 162.3,376.7 163.1,375.7 163.7,374.9 163.8,374.7 164.6,373.6 165.3,372.5 166.1,371.3 166.8,370.1 167.6,368.8 168.3,367.6 169.1,366.3 169.8,365.0 170.6,363.8 170.7,363.6 171.3,362.5 172.1,361.3 172.8,360.1 173.6,358.8 174.3,357.6 175.1,356.3 175.8,355.0 176.6,353.6 177.3,352.2 178.1,350.6 178.8,349.0 179.1,348.4 179.6,347.2 180.3,345.0 181.1,342.7 181.8,340.2 182.6,337.6 183.3,335.0 184.1,332.4 184.8,329.9 185.1,329.1 185.6,327.6 186.3,325.3 187.1,323.2 187.8,321.0 188.6,318.9 189.3,316.6 190.1,314.3 190.8,311.9 191.1,311.0 191.6,309.2 192.3,306.5 193.1,303.7 193.8,300.7 194.6,297.7 195.3,294.6 196.1,291.4 196.8,288.1 197.6,284.8 198.3,281.4 198.9,278.9 199.1,278.0 199.8,274.5 200.6,271.0 201.3,267.4 202.1,263.7 202.8,259.8 203.6,255.7 204.3,251.7 204.3,251.4 205.1,246.6 205.8,241.3 206.6,235.6 207.3,229.6 208.1,223.7 208.8,217.9 209.6,212.4 210.3,207.3 210.7,205.1 211.1,202.8 211.8,198.7 212.6,194.9 213.3,191.2 214.1,187.7 214.8,184.2 215.6,180.5 216.3,176.7 217.1,172.6 217.2,172.0 217.8,167.9 218.6,162.4 219.3,156.4 220.1,150.1 220.8,143.7 221.6,137.6 222.3,132.0 223.1,127.0 223.8,123.1 224.6,120.3 224.8,119.8 225.3,118.6 226.1,117.2 226.8,116.0 227.6,115.0 228.3,114.1 229.1,113.3 229.8,112.6 230.0,112.5 230.6,112.0 231.3,111.4 232.1,110.8 232.8,110.2 233.6,109.7 234.3,109.2 235.1,108.8 235.8,108.4 236.6,108.1 237.3,107.9 238.1,107.8 238.5,107.8 238.8,107.9 239.6,108.6 240.3,110.0 241.1,111.8 241.8,114.1 242.6,116.6 243.3,119.2 244.1,121.9 244.8,124.5 245.5,126.5 245.6,126.8 246.3,129.1 247.1,131.6 247.8,134.1 248.6,136.6 249.3,139.2 250.0,141.3 250.1,141.6 250.8,144.0 251.6,146.4 252.3,148.8 253.1,151.2 253.8,153.6 254.6,155.9 255.3,158.4 256.1,160.8 256.6,162.5 256.9,163.3 257.6,165.9 258.4,168.6 259.1,171.3 259.9,174.0 260.6,176.8 261.4,179.5 262.1,182.2 262.9,184.8 263.6,187.3 264.1,189.0 264.4,189.8 265.1,192.3 265.9,194.7 266.6,197.1 267.4,199.4 268.1,201.7 268.9,203.9 269.6,206.0 270.3,207.8 270.4,207.9 271.1,209.8 271.9,211.5 272.6,213.1 273.4,214.7 274.1,216.3 274.9,217.8 275.6,219.3 276.4,220.8 277.1,222.4 277.9,224.0 278.1,224.5 278.6,225.6 279.4,227.3 280.1,229.0 280.9,230.7 281.6,232.4 282.4,234.2 283.1,235.9 283.9,237.5 284.6,239.2 285.3,240.7 285.4,240.8 286.1,242.4 286.9,244.0 287.6,245.6 288.4,247.1 289.1,248.6 289.9,250.1 290.6,251.5 291.4,252.9 291.6,253.3 292.1,254.1 292.9,255.4 293.6,256.5 294.4,257.6 295.1,258.7 295.9,259.8 296.6,260.9 297.4,261.9 298.1,263.0 298.9,264.1 298.9,264.2 299.6,265.3 300.4,266.4 301.1,267.5 301.9,268.6 302.6,269.8 303.4,270.9 304.1,272.0 304.9,273.2 305.6,274.3 306.1,275.0 306.4,275.4 307.1,276.5 307.9,277.6 308.6,278.7 309.4,279.8 310.1,280.9 310.9,281.9 311.6,282.9 312.4,283.9 312.4,284.0 313.1,284.9 313.9,285.8 314.6,286.7 315.4,287.6 316.1,288.4 316.9,289.3 317.6,290.1 318.4,291.0 319.1,291.8 319.9,292.7 320.6,293.5 321.0,294.0 321.4,294.4 322.1,295.3 322.9,296.2 323.6,297.2 324.4,298.1 325.1,299.0 325.9,300.0 326.6,300.9 327.4,301.8 328.1,302.7 328.9,303.6 329.6,304.5 330.0,305.0 330.4,305.4 331.1,306.3 331.9,307.1 332.6,308.0 333.4,308.8 334.1,309.6 334.9,310.5 335.6,311.3 336.4,312.1 337.1,313.0 337.9,313.8 338.0,314.0 338.6,314.7 339.4,315.6 340.1,316.5 340.9,317.4 341.6,318.3 342.4,319.2 343.1,320.1 343.9,321.0 344.6,321.8 345.2,322.4 345.4,322.5 346.1,323.3 346.9,324.0 347.6,324.7 348.4,325.4 349.1,326.0 349.9,326.7 350.6,327.3 351.4,327.9 352.1,328.5 352.4,328.7 352.9,329.0 353.6,329.6 354.4,330.1 355.1,330.7 355.9,331.2 356.6,331.7 357.4,332.2 358.1,332.6 358.9,333.0 359.6,333.3 360.4,333.6 361.1,333.9 361.9,334.1 362.6,334.3 363.4,334.6 364.1,334.8 364.9,334.9 365.6,335.1 366.4,335.3 366.9,335.4 367.1,335.4 367.9,335.6 368.6,335.7 369.4,335.8 370.1,335.9 370.9,336.0 371.6,336.1 372.4,336.2 373.1,336.3 373.9,336.5 374.1,336.5 374.6,336.6 375.4,336.8 376.1,337.0 376.9,337.3 377.6,337.5 378.4,337.7 378.6,337.7 379.1,337.8 379.9,337.9 380.6,338.0 381.4,338.2 382.1,338.3 382.9,338.4 383.6,338.5 384.4,338.6 385.1,338.6 385.9,338.7 386.6,338.8 387.4,338.9 388.1,339.0 388.9,339.0 389.6,339.1 390.4,339.2 391.1,339.3 391.9,339.4 392.6,339.4 393.4,339.5 394.1,339.6 394.9,339.7 395.6,339.8 396.4,339.9 397.1,340.0 397.8,340.1 397.9,340.1 398.6,340.2 399.4,340.3 400.1,340.5 400.9,340.6 401.6,340.7 402.4,340.8 403.1,341.0 403.9,341.1 404.6,341.2 405.4,341.4 406.1,341.5 406.9,341.7 407.6,341.8 408.4,342.0 409.1,342.1 409.9,342.3 410.6,342.4 411.4,342.6 412.1,342.7 412.9,342.9 413.6,343.0 414.4,343.2 415.1,343.3 415.9,343.5 416.6,343.6 417.1,343.7 417.4,343.7 418.1,343.9 418.9,344.1 419.6,344.2 420.4,344.4 421.1,344.5 421.9,344.7 422.6,344.9 423.4,345.0 424.1,345.2 424.9,345.3 425.6,345.5 426.4,345.6 426.7,345.7 427.1,345.8 427.9,345.9 428.6,346.1 429.4,346.2 430.1,346.3 430.9,346.5 431.6,346.6 432.4,346.8 433.1,346.9 433.9,347.0 434.6,347.2 435.4,347.3 436.1,347.4 436.4,347.5 436.9,347.6 437.6,347.7 438.4,347.8 439.1,348.0 439.9,348.1 440.6,348.2 441.4,348.4 442.1,348.5 442.9,348.6 443.6,348.8 444.4,348.9 445.1,349.0 445.9,349.2 446.0,349.2 446.6,349.3 447.4,349.5 448.1,349.6 448.9,349.8 449.6,350.0 450.4,350.2 451.1,350.3 451.9,350.5 452.6,350.7 453.4,350.8 454.1,351.0 454.9,351.1 455.6,351.2 455.7,351.2 456.4,351.3 457.1,351.4 457.9,351.5 458.6,351.5 459.4,351.6 460.1,351.7 460.9,351.8 461.6,351.8 462.4,351.9 463.1,351.9 463.9,352.0 464.6,352.0 465.3,352.0 465.4,352.0 466.1,352.0 466.9,352.0 467.6,352.0 468.4,351.9 469.1,351.9 469.9,351.9 470.6,351.9 471.4,351.8 472.1,351.8 472.9,351.7 473.6,351.7 474.4,351.6 475.1,351.6 475.9,351.5 476.6,351.5 477.4,351.5 478.1,351.4 478.9,351.4 479.6,351.3 480.4,351.3 481.1,351.3 481.9,351.2 482.6,351.2 483.4,351.2 484.1,351.2 484.6,351.2 484.9,351.2 485.6,351.2 486.4,351.2 487.1,351.2 487.9,351.2 488.6,351.2 489.4,351.2 490.1,351.2 490.9,351.2 491.6,351.2 492.4,351.2 493.1,351.2 493.9,351.2 494.2,351.2 494.6,351.2 495.4,351.2 496.1,351.2 496.9,351.2 497.6,351.3 498.4,351.3 499.1,351.3 499.9,351.3 500.6,351.4 501.4,351.4 502.1,351.5 502.9,351.5 503.6,351.6 504.4,351.7 505.1,351.7 505.9,351.8 506.6,351.9 507.4,351.9 508.1,352.0 508.9,352.1 509.6,352.2 510.4,352.3 511.0,352.4 511.1,352.4 511.9,352.6 512.6,352.9 513.4,353.3 514.1,353.7 514.9,354.2 515.6,354.7 516.4,355.2 517.1,355.6 517.9,356.0 518.6,356.4 519.4,356.6 519.4,356.6 520.1,356.7 520.9,356.9 521.6,357.0 522.4,357.1 523.1,357.1 523.9,357.2 524.6,357.3 525.4,357.3 526.1,357.4 526.9,357.5 527.6,357.6 528.4,357.6 529.1,357.7 529.9,357.8 530.6,358.0 530.7,358.0 531.4,358.2 532.1,358.4 532.9,358.6 533.6,358.9 534.4,359.2 535.1,359.6 535.9,359.8 536.3,360.0 536.6,360.1 537.4,360.4 538.1,360.6 538.9,360.8 539.6,361.1 540.4,361.3 541.1,361.6 541.9,361.8 542.6,362.0 543.4,362.3 544.1,362.5 544.9,362.8 545.6,363.0 546.4,363.2 547.1,363.5 547.5,363.6 547.9,363.7 548.6,364.0 549.4,364.2 550.1,364.4 550.9,364.7 551.6,364.9 552.4,365.1 553.1,365.4 553.9,365.6 554.6,365.9 555.4,366.2 556.0,366.4 556.1,366.4 556.9,366.7 557.6,367.0 558.4,367.4 559.1,367.7 559.9,368.0 560.6,368.4 561.4,368.7 562.1,369.1 562.9,369.4 563.6,369.7 564.4,370.1 564.4,370.1 565.1,370.4 565.9,370.7 566.6,371.0 567.4,371.3 568.1,371.6 568.9,371.9 569.6,372.2 570.4,372.5 571.1,372.8 571.9,373.1 572.6,373.5 573.4,373.8 574.1,374.1 574.9,374.5 575.6,374.9 575.7,374.9 576.4,375.2 577.1,375.7 577.9,376.1 578.6,376.6 579.4,377.0 579.9,377.3 580.1,377.4 580.9,377.8 581.6,378.1 582.4,378.5 583.1,378.9 583.9,379.3 584.6,379.7 585.4,380.1 586.1,380.5 586.9,380.9 587.6,381.2 588.4,381.5 589.1,381.9 589.9,382.2 590.6,382.4 591.4,382.7 592.1,382.9 592.9,383.0 593.6,383.2 594.4,383.3 595.1,383.3 595.4,383.3 595.9,383.3 596.6,383.3 597.4,383.3 598.1,383.2 598.9,383.2 599.6,383.2 600.4,383.1 601.1,383.1 601.9,383.1 602.6,383.0 603.4,383.0 604.1,382.9 604.9,382.9 605.6,382.9 606.4,382.8 607.1,382.8 607.9,382.8 608.6,382.8 608.7,382.8 609.4,382.8 610.1,383.0 610.9,383.3 611.6,383.6 612.4,384.0 613.1,384.5 613.9,385.0 614.6,385.6 615.4,386.2 616.1,386.8 616.9,387.4 617.6,388.0 618.4,388.6 619.1,389.1 619.9,389.7 620.6,390.1 621.4,390.5 622.1,390.8 622.9,391.1 623.6,391.3 624.4,391.5 625.1,391.7 625.9,391.8 626.6,392.0 627.4,392.2 628.1,392.3 628.9,392.4 629.6,392.6 630.4,392.7 631.1,392.9 631.9,393.0 632.6,393.2 633.4,393.3 634.1,393.5 634.9,393.7 635.6,393.9 636.4,394.1 637.1,394.4 637.6,394.6 637.9,394.7 638.6,395.1 639.4,395.7 640.1,396.4 640.9,397.2 641.6,398.0 642.4,398.8 643.1,399.7 643.9,400.5 644.6,401.3 645.4,402.0 646.1,402.5 646.9,403.0 647.6,403.2 648.2,403.3 648.4,403.3 649.1,403.1 649.9,402.6 650.6,401.8 651.4,400.8 652.1,399.6 652.9,398.1 653.6,396.5 654.4,394.7 655.1,392.8 655.9,390.8 656.6,388.7" fill="none" stroke="#5aff00" stroke-width="2.25" stroke-linejoin="round"/>
<path d="M97.2 402.5L109.0 402.5L103.1 412.8Z" fill="#5aff00"/><path d="M103.5 401.3L115.3 401.3L109.4 411.6Z" fill="#5aff00"/><path d="M109.9 400.2L121.7 400.2L115.8 410.5Z" fill="#5aff00"/><path d="M116.2 399.1L128.0 399.1L122.1 409.4Z" fill="#5aff00"/><path d="M123.3 397.9L135.1 397.9L129.2 408.2Z" fill="#5aff00"/><path d="M130.3 395.4L142.1 395.4L136.2 405.7Z" fill="#5aff00"/><path d="M137.4 391.1L149.2 391.1L143.3 401.4Z" fill="#5aff00"/><path d="M145.8 385.5L157.6 385.5L151.7 395.8Z" fill="#5aff00"/><path d="M152.8 377.8L164.6 377.8L158.7 388.1Z" fill="#5aff00"/><path d="M157.8 371.5L169.6 371.5L163.7 381.8Z" fill="#5aff00"/><path d="M164.8 360.2L176.6 360.2L170.7 370.5Z" fill="#5aff00"/><path d="M173.2 345.0L185.0 345.0L179.1 355.3Z" fill="#5aff00"/><path d="M179.2 325.7L191.0 325.7L185.1 336.0Z" fill="#5aff00"/><path d="M185.2 307.6L197.0 307.6L191.1 317.9Z" fill="#5aff00"/><path d="M193.0 275.5L204.8 275.5L198.9 285.8Z" fill="#5aff00"/><path d="M198.4 248.3L210.2 248.3L204.3 258.6Z" fill="#5aff00"/><path d="M204.8 201.7L216.6 201.7L210.7 212.0Z" fill="#5aff00"/><path d="M211.3 168.6L223.1 168.6L217.2 178.9Z" fill="#5aff00"/><path d="M218.9 116.4L230.7 116.4L224.8 126.7Z" fill="#5aff00"/><path d="M224.1 109.1L235.9 109.1L230.0 119.4Z" fill="#5aff00"/><path d="M232.6 104.4L244.4 104.4L238.5 114.7Z" fill="#5aff00"/><path d="M239.6 123.1L251.4 123.1L245.5 133.4Z" fill="#5aff00"/><path d="M244.1 137.9L255.9 137.9L250.0 148.2Z" fill="#5aff00"/><path d="M250.7 159.1L262.5 159.1L256.6 169.4Z" fill="#5aff00"/><path d="M258.2 185.6L270.0 185.6L264.1 195.9Z" fill="#5aff00"/><path d="M264.4 204.4L276.2 204.4L270.3 214.7Z" fill="#5aff00"/><path d="M272.2 221.1L284.0 221.1L278.1 231.4Z" fill="#5aff00"/><path d="M279.4 237.3L291.2 237.3L285.3 247.6Z" fill="#5aff00"/><path d="M285.7 249.9L297.5 249.9L291.6 260.2Z" fill="#5aff00"/><path d="M293.0 260.8L304.8 260.8L298.9 271.1Z" fill="#5aff00"/><path d="M300.2 271.6L312.0 271.6L306.1 281.9Z" fill="#5aff00"/><path d="M306.5 280.6L318.3 280.6L312.4 290.9Z" fill="#5aff00"/><path d="M313.1 288.2L324.9 288.2L319.0 298.5Z" fill="#5aff00"/><path d="M319.6 296.1L331.4 296.1L325.5 306.4Z" fill="#5aff00"/><path d="M326.2 304.0L338.0 304.0L332.1 314.3Z" fill="#5aff00"/><path d="M332.7 311.3L344.5 311.3L338.6 321.6Z" fill="#5aff00"/><path d="M339.3 319.0L351.1 319.0L345.2 329.3Z" fill="#5aff00"/><path d="M346.5 325.3L358.3 325.3L352.4 335.6Z" fill="#5aff00"/><path d="M353.7 329.9L365.5 329.9L359.6 340.2Z" fill="#5aff00"/><path d="M361.0 332.0L372.8 332.0L366.9 342.3Z" fill="#5aff00"/><path d="M368.2 333.1L380.0 333.1L374.1 343.4Z" fill="#5aff00"/><path d="M375.1 335.3L386.9 335.3L381.0 345.6Z" fill="#5aff00"/><path d="M382.0 334.5L393.8 334.5L387.9 344.8Z" fill="#5aff00"/><path d="M389.0 336.5L400.8 336.5L394.9 346.8Z" fill="#5aff00"/><path d="M395.9 336.8L407.7 336.8L401.8 347.1Z" fill="#5aff00"/><path d="M402.8 338.7L414.6 338.7L408.7 349.0Z" fill="#5aff00"/><path d="M409.7 340.0L421.5 340.0L415.6 350.3Z" fill="#5aff00"/><path d="M416.7 341.2L428.5 341.2L422.6 351.5Z" fill="#5aff00"/><path d="M423.6 342.1L435.4 342.1L429.5 352.4Z" fill="#5aff00"/><path d="M430.5 344.1L442.3 344.1L436.4 354.4Z" fill="#5aff00"/><path d="M437.4 345.6L449.2 345.6L443.3 355.9Z" fill="#5aff00"/><path d="M444.3 347.2L456.1 347.2L450.2 357.5Z" fill="#5aff00"/><path d="M451.2 347.5L463.0 347.5L457.1 357.8Z" fill="#5aff00"/><path d="M458.0 349.6L469.8 349.6L463.9 359.9Z" fill="#5aff00"/><path d="M464.9 349.1L476.7 349.1L470.8 359.4Z" fill="#5aff00"/><path d="M471.8 347.8L483.6 347.8L477.7 358.1Z" fill="#5aff00"/><path d="M478.7 347.8L490.5 347.8L484.6 358.1Z" fill="#5aff00"/><path d="M485.3 348.2L497.1 348.2L491.2 358.5Z" fill="#5aff00"/><path d="M491.9 347.0L503.7 347.0L497.8 357.3Z" fill="#5aff00"/><path d="M498.5 348.5L510.3 348.5L504.4 358.8Z" fill="#5aff00"/><path d="M505.1 349.0L516.9 349.0L511.0 359.3Z" fill="#5aff00"/><path d="M513.5 353.2L525.3 353.2L519.4 363.5Z" fill="#5aff00"/><path d="M520.5 354.1L532.3 354.1L526.4 364.4Z" fill="#5aff00"/><path d="M527.6 355.9L539.4 355.9L533.5 366.2Z" fill="#5aff00"/><path d="M534.6 358.8L546.4 358.8L540.5 369.1Z" fill="#5aff00"/><path d="M541.6 360.2L553.4 360.2L547.5 370.5Z" fill="#5aff00"/><path d="M548.6 362.2L560.4 362.2L554.5 372.5Z" fill="#5aff00"/><path d="M555.7 366.1L567.5 366.1L561.6 376.4Z" fill="#5aff00"/><path d="M562.8 368.7L574.6 368.7L568.7 379.0Z" fill="#5aff00"/><path d="M569.8 371.5L581.6 371.5L575.7 381.8Z" fill="#5aff00"/><path d="M576.4 374.0L588.2 374.0L582.3 384.3Z" fill="#5aff00"/><path d="M582.9 378.0L594.7 378.0L588.8 388.3Z" fill="#5aff00"/><path d="M589.5 379.9L601.3 379.9L595.4 390.2Z" fill="#5aff00"/><path d="M596.1 378.8L607.9 378.8L602.0 389.1Z" fill="#5aff00"/><path d="M602.8 379.4L614.6 379.4L608.7 389.7Z" fill="#5aff00"/><path d="M609.5 382.9L621.3 382.9L615.4 393.2Z" fill="#5aff00"/><path d="M616.2 387.4L628.0 387.4L622.1 397.7Z" fill="#5aff00"/><path d="M624.0 388.9L635.8 388.9L629.9 399.2Z" fill="#5aff00"/><path d="M631.7 391.2L643.5 391.2L637.6 401.5Z" fill="#5aff00"/><path d="M642.3 399.9L654.1 399.9L648.2 410.2Z" fill="#5aff00"/><path d="M650.7 385.3L662.5 385.3L656.6 395.6Z" fill="#5aff00"/>
</g>
</g>
<rect x="100.9" y="5.6" width="558.0" height="411.9" fill="none" stroke="#000" stroke-width="2.15"/>
<path d="M100.9 417.6h8.8M100.9 390.7h5.2M100.9 363.9h8.8M100.9 337.0h5.2M100.9 310.2h8.8M100.9 283.3h5.2M100.9 256.5h8.8M100.9 229.6h5.2M100.9 202.7h8.8M100.9 175.9h5.2M100.9 149.0h8.8M100.9 122.2h5.2M100.9 95.3h8.8M100.9 68.5h5.2M100.9 41.6h8.8M100.9 14.7h5.2M100.9 417.5v-8.8M156.7 417.5v-5.2M212.5 417.5v-8.8M268.3 417.5v-5.2M324.1 417.5v-8.8M379.9 417.5v-5.2M435.7 417.5v-8.8M491.5 417.5v-5.2M547.3 417.5v-8.8M603.1 417.5v-5.2M658.9 417.5v-8.8" stroke="#000" stroke-width="2.0" fill="none"/>
<text transform="translate(91.90,424.60) scale(0.9,1.0)" text-anchor="end" font-family="'Liberation Serif', serif" font-size="25px" font-weight="bold" fill="#000">0.0</text>
<text transform="translate(91.90,370.88) scale(0.9,1.0)" text-anchor="end" font-family="'Liberation Serif', serif" font-size="25px" font-weight="bold" fill="#000">0.3</text>
<text transform="translate(91.90,317.17) scale(0.9,1.0)" text-anchor="end" font-family="'Liberation Serif', serif" font-size="25px" font-weight="bold" fill="#000">0.6</text>
<text transform="translate(91.90,263.46) scale(0.9,1.0)" text-anchor="end" font-family="'Liberation Serif', serif" font-size="25px" font-weight="bold" fill="#000">0.9</text>
<text transform="translate(91.90,209.74) scale(0.9,1.0)" text-anchor="end" font-family="'Liberation Serif', serif" font-size="25px" font-weight="bold" fill="#000">1.2</text>
<text transform="translate(91.90,156.02) scale(0.9,1.0)" text-anchor="end" font-family="'Liberation Serif', serif" font-size="25px" font-weight="bold" fill="#000">1.5</text>
<text transform="translate(91.90,102.31) scale(0.9,1.0)" text-anchor="end" font-family="'Liberation Serif', serif" font-size="25px" font-weight="bold" fill="#000">1.8</text>
<text transform="translate(91.90,48.59) scale(0.9,1.0)" text-anchor="end" font-family="'Liberation Serif', serif" font-size="25px" font-weight="bold" fill="#000">2.1</text>
<text transform="translate(100.60,445.30) scale(0.915,1.0)" text-anchor="middle" font-family="'Liberation Serif', serif" font-size="25.2px" font-weight="bold" fill="#000">-75</text>
<text transform="translate(212.20,445.30) scale(0.915,1.0)" text-anchor="middle" font-family="'Liberation Serif', serif" font-size="25.2px" font-weight="bold" fill="#000">-50</text>
<text transform="translate(323.80,445.30) scale(0.915,1.0)" text-anchor="middle" font-family="'Liberation Serif', serif" font-size="25.2px" font-weight="bold" fill="#000">-25</text>
<text transform="translate(435.40,445.30) scale(0.915,1.0)" text-anchor="middle" font-family="'Liberation Serif', serif" font-size="25.2px" font-weight="bold" fill="#000">0</text>
<text transform="translate(547.00,445.30) scale(0.915,1.0)" text-anchor="middle" font-family="'Liberation Serif', serif" font-size="25.2px" font-weight="bold" fill="#000">25</text>
<text transform="translate(658.60,445.30) scale(0.915,1.0)" text-anchor="middle" font-family="'Liberation Serif', serif" font-size="25.2px" font-weight="bold" fill="#000">50</text>
<text transform="translate(258.60,492.20) scale(1.018,1.0)" text-anchor="start" font-family="'Liberation Serif', serif" font-size="33px" font-weight="bold" fill="#000">Temperature</text>
<text transform="translate(456.20,492.20) scale(1.0,1.0)" text-anchor="start" font-family="'Liberation Serif', serif" font-size="33px" fill="#000">/</text>
<g transform="translate(28.1,272.9) rotate(-90)"><text transform="translate(0.00,0.00) scale(0.99,1.0)" text-anchor="start" font-family="'Liberation Serif', serif" font-size="33.4px" font-weight="bold" fill="#000">Tan</text><text transform="translate(66.00,0.00) scale(0.97,1.0)" text-anchor="start" font-family="'Liberation Serif', serif" font-size="33.4px" font-weight="bold" fill="#000">δ</text></g>
<circle cx="472.4" cy="471.6" r="3.0" fill="none" stroke="#000" stroke-width="1.6"/>
<text transform="translate(473.80,492.00) scale(0.96,1.0)" text-anchor="start" font-family="'Liberation Serif', serif" font-size="34px" fill="#000">C</text>
<path d="M403.3 28.8H466.6" stroke="#000000" stroke-width="2.0" fill="none"/>
<rect x="430.6" y="24.6" width="8.5" height="8.5" fill="#000000"/>
<text transform="translate(472.60,38.00) scale(1.031,1.0)" text-anchor="start" font-family="'Liberation Serif', serif" font-size="26.9px" fill="#000">NR</text>
<path d="M403.3 62.8H466.6" stroke="#ff2a00" stroke-width="2.0" fill="none"/>
<circle cx="434.9" cy="62.8" r="4.7" fill="#ff2a00"/>
<text transform="translate(472.60,72.10) scale(1.031,1.0)" text-anchor="start" font-family="'Liberation Serif', serif" font-size="26.9px" fill="#000">NR/SR (100/30)</text>
<path d="M403.3 96.8H466.6" stroke="#0037ff" stroke-width="2.0" fill="none"/>
<path d="M429.2 100.1L440.5 100.1L434.9 90.5Z" fill="#0037ff"/>
<text transform="translate(472.60,105.80) scale(1.031,1.0)" text-anchor="start" font-family="'Liberation Serif', serif" font-size="26.9px" fill="#000">NR/SR (100/40)</text>
<path d="M403.3 130.7H466.6" stroke="#5aff00" stroke-width="2.0" fill="none"/>
<path d="M429.2 127.2L440.5 127.2L434.9 136.8Z" fill="#5aff00"/>
<text transform="translate(472.60,140.00) scale(1.031,1.0)" text-anchor="start" font-family="'Liberation Serif', serif" font-size="26.9px" fill="#000">NR/SR (100/50)</text>
</svg>
</body></html>
